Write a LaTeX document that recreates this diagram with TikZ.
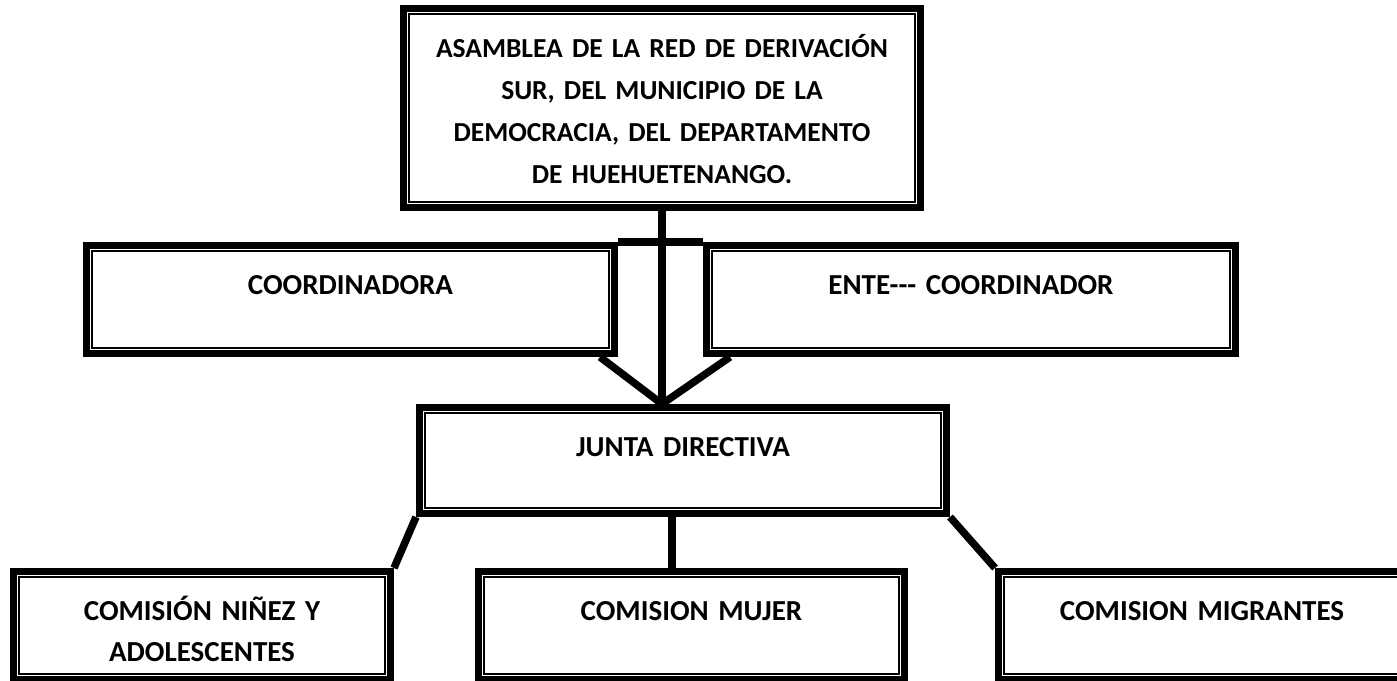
\documentclass[tikz,border=0pt]{standalone}
\usepackage{fontspec}
\setmainfont{Carlito}
\tikzset{
  orgbox/.style={draw, line width=7pt, inner sep=0pt, align=center, text height=48.5pt,
    font=\fontsize{29pt}{41pt}\selectfont\bfseries},
  frame/.style={double, line width=1.3pt, double distance=1.5pt},
  link/.style={line width=7.5pt}
}
\begin{document}
\begin{tikzpicture}[x=1pt,y=-1pt]
  \clip (0,0) rectangle (1397,680);
  \node[orgbox,text width=517pt,text depth=150.5pt,font=\fontsize{27.5pt}{42pt}\selectfont\bfseries] (asam) at (662,108) {ASAMBLEA DE LA RED DE DERIVACIÓN\\ SUR, DEL MUNICIPIO DE LA\\ DEMOCRACIA, DEL DEPARTAMENTO\\ DE HUEHUETENANGO.};
  \node[orgbox,text width=528pt,text depth=59.5pt] (coord) at (350.5,299.5) {COORDINADORA};
  \node[orgbox,text width=529pt,text depth=59.5pt] (ente) at (971,299.5) {ENTE-{}-{}- COORDINADOR};
  \node[orgbox,text width=527pt,text depth=57.5pt] (junta) at (683,460.5) {JUNTA DIRECTIVA};
  \node[orgbox,text width=377pt,text depth=59.5pt] (nin) at (202,625.5) {COMISIÓN NIÑEZ Y\\ ADOLESCENTES};
  \node[orgbox,text width=426pt,text depth=59.5pt] (mujer) at (691.5,625.5) {COMISION MUJER};
  \node[orgbox,text width=407pt,text depth=59.5pt] (migr) at (1202,625.5) {COMISION MIGRANTES};

  % thin double lines inside the thick frames
  \foreach \n in {asam,coord,ente,junta,nin,mujer,migr}
    \draw[frame] ([shift={(7.5,7.5)}]\n.north west) rectangle ([shift={(-7.5,-7.5)}]\n.south east);

  \coordinate (hub) at ([xshift=-21pt]junta.north);
  \coordinate (stem) at ([xshift=-19.5pt]mujer.north);

  \draw[link] (asam.south -| hub) -- (hub);
  \draw[link] (coord.north east) -- (ente.north west);
  \draw[link] ([xshift=-18pt]coord.south east) -- (hub);
  \draw[link] ([xshift=27pt]ente.south west) -- (hub);
  \draw[link] (junta.south west) -- (nin.north east);
  \draw[link] (junta.south -| stem) -- (stem);
  \draw[link] (junta.south east) -- (migr.north west);
\end{tikzpicture}
\end{document}
